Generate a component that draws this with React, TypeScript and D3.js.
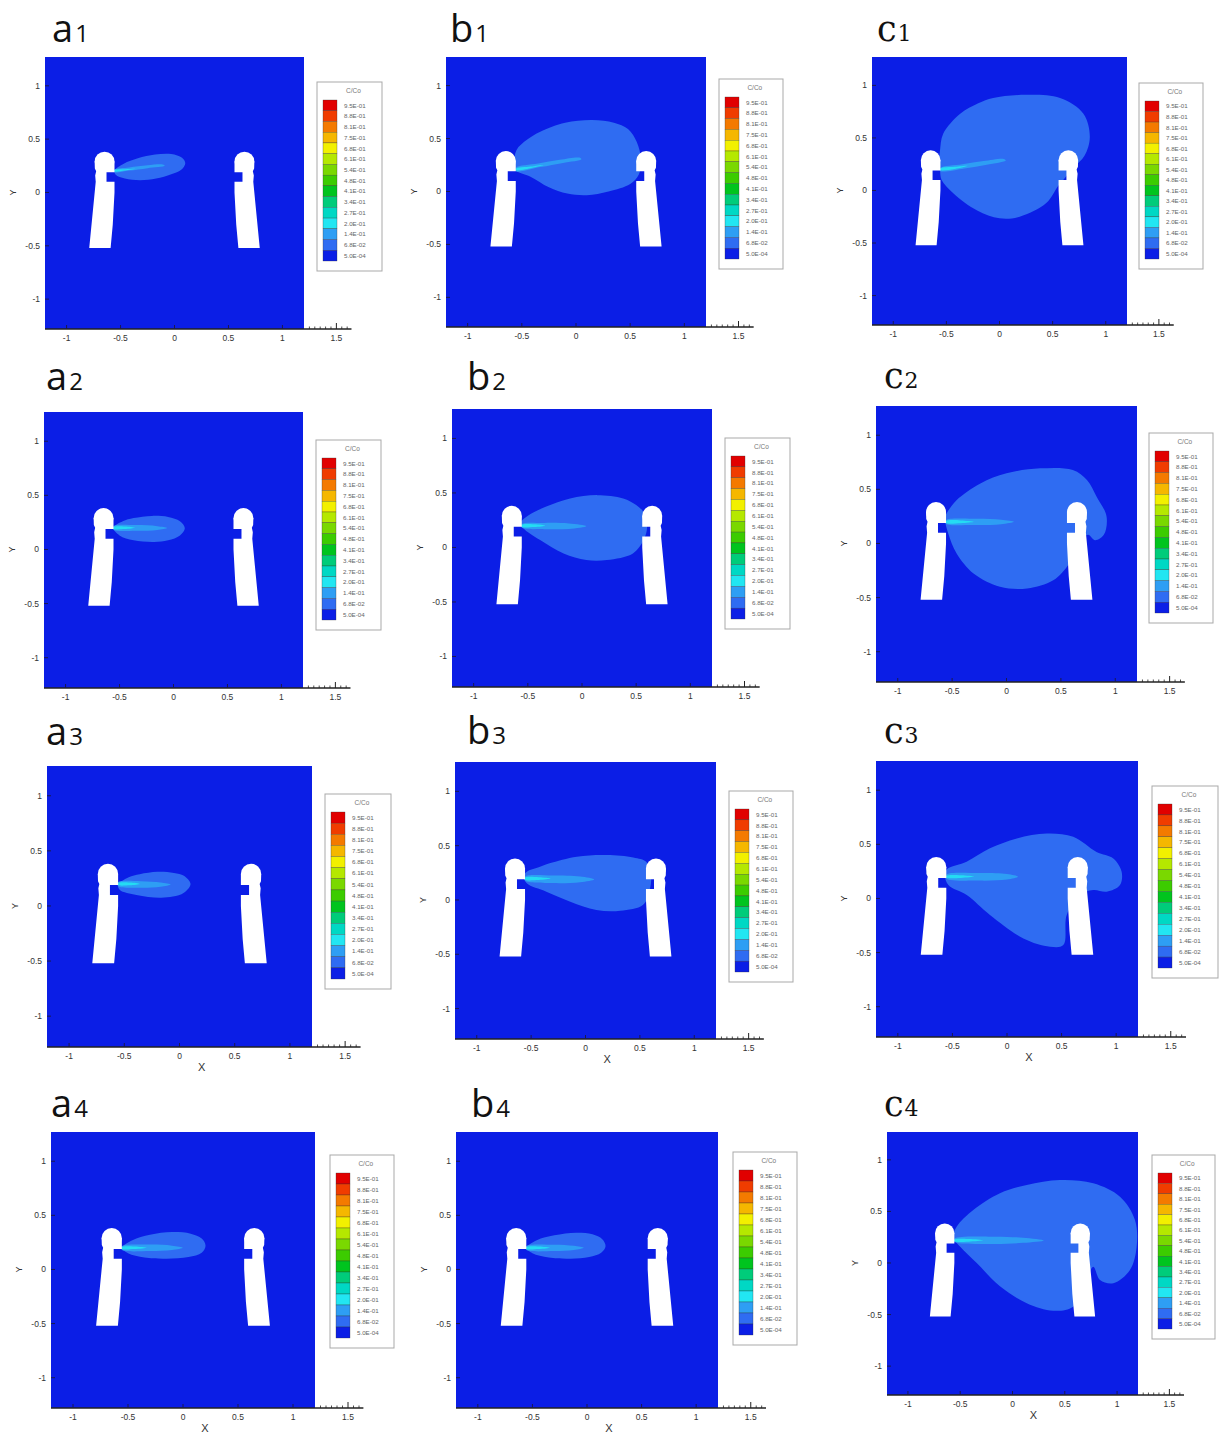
import * as d3 from "d3";

type Pt = [number, number];

// colour legend (C/Co levels, top to bottom)
const legendLabels = ["9.5E-01", "8.8E-01", "8.1E-01", "7.5E-01", "6.8E-01", "6.1E-01", "5.4E-01", "4.8E-01", "4.1E-01", "3.4E-01", "2.7E-01", "2.0E-01", "1.4E-01", "6.8E-02", "5.0E-04"];
const legendColors = ["#e10000", "#f03c00", "#f47a00", "#f5b700", "#f2f000", "#b5e800", "#7ad800", "#3ccc00", "#00c41e", "#00cc7a", "#00d8c4", "#22e6f2", "#2e9ef4", "#2f6cf2", "#0b1ee6"];

const xTicks = [-1, -0.5, 0, 0.5, 1, 1.5];
const xMinorTicks = [1.25, 1.3, 1.35, 1.4, 1.45, 1.55, 1.6];
const yTicks = [-1, -0.5, 0, 0.5, 1];

// left manikin (the right one is its mirror)
const headCenter: Pt = [-0.648, 0.29];
const headRadius = 0.092;
const bodyOutline: Pt[] = [
  [-0.74, 0.29], [-0.738, 0.225], [-0.726, 0.2], [-0.735, 0.16], [-0.73, 0.1], [-0.79, -0.52], [-0.592, -0.52],
  [-0.572, -0.3], [-0.556, 0.0], [-0.556, 0.1], [-0.63, 0.1], [-0.63, 0.19], [-0.556, 0.19], [-0.556, 0.29],
];

// plumes: outer (6.8E-02), jet (1.4E-01), core (2.0E-01)
const a1Outer: Pt[] = [[-0.556, 0.205], [-0.47, 0.27], [-0.34, 0.32], [-0.18, 0.355], [-0.03, 0.36], [0.07, 0.325], [0.1, 0.275], [0.065, 0.215], [-0.03, 0.17], [-0.17, 0.13], [-0.32, 0.115], [-0.46, 0.13], [-0.545, 0.165]];
const a1Jet: Pt[] = [[-0.556, 0.215], [-0.42, 0.235], [-0.25, 0.255], [-0.11, 0.262], [-0.09, 0.25], [-0.25, 0.228], [-0.42, 0.205], [-0.556, 0.19]];
const a1Core: Pt[] = [[-0.556, 0.21], [-0.46, 0.218], [-0.36, 0.222], [-0.46, 0.205], [-0.556, 0.196]];

const b1Outer: Pt[] = [[-0.57, 0.26], [-0.55, 0.39], [-0.45, 0.49], [-0.33, 0.565], [-0.1, 0.65], [0.15, 0.675], [0.35, 0.65], [0.48, 0.59], [0.56, 0.47], [0.6, 0.3], [0.58, 0.16], [0.5, 0.07], [0.3, 0.0], [0.1, -0.035], [-0.08, -0.02], [-0.25, 0.04], [-0.42, 0.14], [-0.56, 0.2]];
const b1Jet: Pt[] = [[-0.556, 0.225], [-0.35, 0.265], [-0.15, 0.3], [0.03, 0.32], [0.05, 0.305], [-0.12, 0.27], [-0.33, 0.23], [-0.556, 0.19]];
const b1Core: Pt[] = [[-0.556, 0.215], [-0.42, 0.235], [-0.3, 0.25], [-0.42, 0.22], [-0.556, 0.2]];

const c1Outer: Pt[] = [[-0.57, 0.25], [-0.56, 0.38], [-0.53, 0.54], [-0.37, 0.73], [-0.2, 0.83], [-0.06, 0.88], [0.25, 0.91], [0.57, 0.88], [0.79, 0.73], [0.85, 0.51], [0.8, 0.33], [0.7, 0.22], [0.6, 0.1], [0.55, 0.04], [0.44, -0.12], [0.19, -0.25], [0.0, -0.265], [-0.21, -0.19], [-0.43, -0.03], [-0.545, 0.1], [-0.56, 0.19]];
const c1Jet: Pt[] = [[-0.556, 0.215], [-0.35, 0.25], [-0.15, 0.28], [0.04, 0.3], [0.06, 0.285], [-0.12, 0.245], [-0.33, 0.21], [-0.556, 0.185]];
const c1Core: Pt[] = [[-0.556, 0.21], [-0.42, 0.225], [-0.3, 0.235], [-0.42, 0.205], [-0.556, 0.195]];

const a2Outer: Pt[] = [[-0.556, 0.2], [-0.47, 0.26], [-0.37, 0.29], [-0.2, 0.31], [-0.05, 0.3], [0.06, 0.26], [0.105, 0.195], [0.06, 0.13], [-0.05, 0.085], [-0.18, 0.07], [-0.37, 0.085], [-0.5, 0.13]];
const a2Jet: Pt[] = [[-0.556, 0.215], [-0.35, 0.225], [-0.15, 0.215], [-0.06, 0.198], [-0.15, 0.18], [-0.35, 0.172], [-0.556, 0.182]];
const a2Core: Pt[] = [[-0.556, 0.208], [-0.45, 0.212], [-0.36, 0.2], [-0.45, 0.188], [-0.556, 0.19]];

const b2Outer: Pt[] = [[-0.57, 0.22], [-0.54, 0.26], [-0.45, 0.32], [-0.33, 0.375], [-0.11, 0.45], [0.14, 0.48], [0.38, 0.45], [0.5, 0.39], [0.57, 0.32], [0.6, 0.18], [0.57, 0.07], [0.47, -0.055], [0.23, -0.115], [0.04, -0.115], [-0.17, -0.055], [-0.39, 0.07], [-0.54, 0.175]];
const b2Jet: Pt[] = [[-0.556, 0.215], [-0.35, 0.225], [-0.12, 0.22], [0.04, 0.195], [-0.12, 0.17], [-0.35, 0.168], [-0.556, 0.182]];
const b2Core: Pt[] = [[-0.556, 0.208], [-0.44, 0.212], [-0.34, 0.2], [-0.44, 0.188], [-0.556, 0.19]];

const c2Outer: Pt[] = [[-0.57, 0.24], [-0.55, 0.28], [-0.46, 0.4], [-0.24, 0.555], [0.0, 0.648], [0.31, 0.694], [0.61, 0.678], [0.74, 0.586], [0.83, 0.43], [0.92, 0.25], [0.895, 0.08], [0.815, 0.03], [0.75, 0.08], [0.68, 0.03], [0.58, -0.18], [0.43, -0.34], [0.19, -0.415], [-0.06, -0.4], [-0.3, -0.28], [-0.46, -0.09], [-0.535, 0.09], [-0.56, 0.18]];
const c2Jet: Pt[] = [[-0.556, 0.215], [-0.3, 0.228], [-0.05, 0.22], [0.07, 0.2], [-0.05, 0.178], [-0.3, 0.17], [-0.556, 0.183]];
const c2Core: Pt[] = [[-0.556, 0.208], [-0.42, 0.213], [-0.3, 0.2], [-0.42, 0.187], [-0.556, 0.19]];

const a3Outer: Pt[] = [[-0.556, 0.19], [-0.46, 0.26], [-0.36, 0.288], [-0.2, 0.31], [-0.05, 0.3], [0.04, 0.275], [0.1, 0.2], [0.04, 0.12], [-0.06, 0.085], [-0.18, 0.075], [-0.39, 0.1], [-0.54, 0.145]];
const a3Jet: Pt[] = [[-0.556, 0.215], [-0.35, 0.225], [-0.17, 0.213], [-0.08, 0.195], [-0.17, 0.175], [-0.35, 0.165], [-0.556, 0.18]];
const a3Core: Pt[] = [[-0.556, 0.208], [-0.45, 0.212], [-0.36, 0.2], [-0.45, 0.188], [-0.556, 0.19]];

const b3Outer: Pt[] = [[-0.57, 0.22], [-0.54, 0.26], [-0.43, 0.3], [-0.33, 0.337], [-0.08, 0.398], [0.195, 0.413], [0.44, 0.39], [0.56, 0.35], [0.6, 0.25], [0.595, 0.11], [0.53, -0.045], [0.32, -0.1], [0.1, -0.093], [-0.14, -0.016], [-0.36, 0.076], [-0.54, 0.153]];
const b3Jet: Pt[] = [[-0.556, 0.215], [-0.3, 0.225], [-0.05, 0.215], [0.08, 0.188], [-0.05, 0.163], [-0.3, 0.155], [-0.556, 0.178]];
const b3Core: Pt[] = [[-0.556, 0.206], [-0.43, 0.21], [-0.32, 0.197], [-0.43, 0.184], [-0.556, 0.187]];

const c3Outer: Pt[] = [[-0.57, 0.23], [-0.54, 0.278], [-0.37, 0.34], [-0.156, 0.463], [0.09, 0.555], [0.364, 0.6], [0.607, 0.57], [0.82, 0.43], [0.974, 0.37], [1.05, 0.247], [1.035, 0.124], [0.913, 0.062], [0.79, 0.078], [0.668, 0.031], [0.547, -0.153], [0.516, -0.43], [0.394, -0.446], [0.15, -0.37], [-0.156, -0.153], [-0.369, 0.031], [-0.537, 0.124]];
const c3Jet: Pt[] = [[-0.556, 0.22], [-0.25, 0.235], [0.0, 0.225], [0.1, 0.2], [0.0, 0.175], [-0.25, 0.165], [-0.556, 0.185]];
const c3Core: Pt[] = [[-0.556, 0.21], [-0.42, 0.215], [-0.3, 0.202], [-0.42, 0.19], [-0.556, 0.193]];

const a4Outer: Pt[] = [[-0.556, 0.2], [-0.46, 0.27], [-0.3, 0.32], [-0.1, 0.345], [0.07, 0.33], [0.17, 0.285], [0.205, 0.22], [0.17, 0.155], [0.05, 0.115], [-0.15, 0.1], [-0.35, 0.11], [-0.5, 0.15]];
const a4Jet: Pt[] = [[-0.556, 0.215], [-0.3, 0.23], [-0.1, 0.22], [0.0, 0.2], [-0.1, 0.18], [-0.3, 0.17], [-0.556, 0.182]];
const a4Core: Pt[] = [[-0.556, 0.208], [-0.44, 0.213], [-0.33, 0.2], [-0.44, 0.188], [-0.556, 0.19]];

const b4Outer: Pt[] = [[-0.556, 0.2], [-0.46, 0.27], [-0.3, 0.315], [-0.1, 0.34], [0.05, 0.325], [0.14, 0.28], [0.17, 0.215], [0.13, 0.155], [0.02, 0.115], [-0.15, 0.1], [-0.35, 0.11], [-0.5, 0.15]];
const b4Jet: Pt[] = [[-0.556, 0.215], [-0.3, 0.228], [-0.12, 0.218], [-0.03, 0.2], [-0.12, 0.18], [-0.3, 0.17], [-0.556, 0.182]];
const b4Core: Pt[] = [[-0.556, 0.208], [-0.44, 0.213], [-0.34, 0.2], [-0.44, 0.188], [-0.556, 0.19]];

const c4Outer: Pt[] = [[-0.57, 0.25], [-0.534, 0.352], [-0.375, 0.514], [-0.12, 0.676], [0.136, 0.757], [0.454, 0.805], [0.772, 0.773], [1.028, 0.643], [1.171, 0.417], [1.187, 0.158], [1.123, -0.068], [0.964, -0.197], [0.837, -0.165], [0.772, -0.036], [0.7, -0.2], [0.58, -0.424], [0.39, -0.463], [0.136, -0.39], [-0.12, -0.226], [-0.342, 0.0], [-0.5, 0.158]];
const c4Jet: Pt[] = [[-0.556, 0.235], [-0.2, 0.255], [0.1, 0.245], [0.3, 0.218], [0.1, 0.195], [-0.2, 0.185], [-0.556, 0.205]];
const c4Core: Pt[] = [[-0.556, 0.228], [-0.42, 0.233], [-0.28, 0.22], [-0.42, 0.207], [-0.556, 0.21]];

const X_DOMAIN = [-1.2, 1.2];
const Y_DOMAIN = [-1.28, 1.27];
const FIELD = legendColors[legendColors.length - 1];
const outerColor = legendColors[legendLabels.indexOf("6.8E-02")];
const jetColor = legendColors[legendLabels.indexOf("1.4E-01")];
const coreColor = legendColors[legendLabels.indexOf("2.0E-01")];

// layout: plot rectangle, legend box, label position
const panels = [
  { letter: "a", n: "1", L: 45, R: 304, T: 57, B: 329, lg: [317, 82, 65, 189], lab: [52, 42], outer: a1Outer, jet: a1Jet, core: a1Core, xl: false },
  { letter: "b", n: "1", L: 446, R: 706, T: 57, B: 327, lg: [719, 79, 64, 190], lab: [450, 42], outer: b1Outer, jet: b1Jet, core: b1Core, xl: false },
  { letter: "c", n: "1", L: 872, R: 1127, T: 57, B: 325, lg: [1139, 83, 64, 186], lab: [877, 41], outer: c1Outer, jet: c1Jet, core: c1Core, xl: false },
  { letter: "a", n: "2", L: 44, R: 303, T: 412, B: 688, lg: [316, 440, 65, 190], lab: [46, 390], outer: a2Outer, jet: a2Jet, core: a2Core, xl: false },
  { letter: "b", n: "2", L: 452, R: 712, T: 409, B: 687, lg: [725, 438, 65, 191], lab: [467, 390], outer: b2Outer, jet: b2Jet, core: b2Core, xl: false },
  { letter: "c", n: "2", L: 876, R: 1137, T: 406, B: 682, lg: [1149, 433, 64, 190], lab: [884, 388], outer: c2Outer, jet: c2Jet, core: c2Core, xl: false },
  { letter: "a", n: "3", L: 47, R: 312, T: 766, B: 1047, lg: [325, 794, 66, 195], lab: [46, 745], outer: a3Outer, jet: a3Jet, core: a3Core, xl: true },
  { letter: "b", n: "3", L: 455, R: 716, T: 762, B: 1039, lg: [729, 791, 64, 191], lab: [467, 744], outer: b3Outer, jet: b3Jet, core: b3Core, xl: true },
  { letter: "c", n: "3", L: 876, R: 1138, T: 761, B: 1037, lg: [1152, 786, 66, 192], lab: [884, 743], outer: c3Outer, jet: c3Jet, core: c3Core, xl: true },
  { letter: "a", n: "4", L: 51, R: 315, T: 1132, B: 1408, lg: [330, 1155, 64, 193], lab: [51, 1117], outer: a4Outer, jet: a4Jet, core: a4Core, xl: true },
  { letter: "b", n: "4", L: 456, R: 718, T: 1132, B: 1408, lg: [733, 1152, 64, 193], lab: [471, 1117], outer: b4Outer, jet: b4Jet, core: b4Core, xl: true },
  { letter: "c", n: "4", L: 887, R: 1138, T: 1132, B: 1395, lg: [1152, 1155, 63, 184], lab: [884, 1116], outer: c4Outer, jet: c4Jet, core: c4Core, xl: true },
];

const FONT = "'Liberation Sans', Arial, sans-serif";

function Legend({ box }: { box: number[] }) {
  const [lx, ly, lw, lh] = box;
  const band = d3.scaleBand<string>().domain(legendLabels).range([ly + 18, ly + lh - 10]);
  const bw = band.bandwidth();
  return (
    <g>
      <rect x={lx} y={ly} width={lw} height={lh} fill="#fff" stroke="#a9a9a9" strokeWidth={1} />
      <text x={lx + lw * 0.56} y={ly + 11} fontSize={6.5} fill="#777" textAnchor="middle" fontFamily={FONT}>C/Co</text>
      {legendLabels.map((l, i) => (
        <g key={l}>
          <rect x={lx + 6} y={band(l)} width={14} height={bw} fill={legendColors[i]} stroke="#333" strokeWidth={0.3} />
          <text x={lx + 27} y={(band(l) as number) + bw / 2 + 2.2} fontSize={6.2} fill="#666" fontFamily={FONT}>{l}</text>
        </g>
      ))}
    </g>
  );
}

function Panel({ p, idx }: { p: (typeof panels)[number]; idx: number }) {
  const x = d3.scaleLinear().domain(X_DOMAIN).range([p.L, p.R]);
  const y = d3.scaleLinear().domain(Y_DOMAIN).range([p.B, p.T]);
  const smooth = d3.line<Pt>().x(d => x(d[0])).y(d => y(d[1])).curve(d3.curveCatmullRomClosed.alpha(0.5));
  const poly = d3.line<Pt>().x(d => x(d[0])).y(d => y(d[1])).curve(d3.curveLinearClosed);
  const mirror = (pts: Pt[]): Pt[] => pts.map(([a, b]) => [-a, b] as Pt);
  const clipId = "plot-clip-" + idx;
  const rx = x(headRadius) - x(0);
  const ry = y(0) - y(headRadius);
  const serif = p.letter === "c";
  return (
    <g>
      <defs>
        <clipPath id={clipId}>
          <rect x={p.L} y={p.T} width={p.R - p.L} height={p.B - p.T} />
        </clipPath>
      </defs>
      <text x={p.lab[0]} y={p.lab[1]} fontFamily={serif ? "'DejaVu Serif', serif" : "'Open Sans', sans-serif"} fontSize={serif ? 35 : 38} fill="#111">
        {p.letter}
        <tspan fontSize={serif ? 22 : 24} dx={serif ? 1 : 2}>{p.n}</tspan>
      </text>
      <rect x={p.L} y={p.T} width={p.R - p.L} height={p.B - p.T} fill={FIELD} />
      <g clipPath={`url(#${clipId})`}>
        <path d={smooth(p.outer) as string} fill={outerColor} />
        <path d={smooth(p.jet) as string} fill={jetColor} />
        <path d={smooth(p.core) as string} fill={coreColor} opacity={0.85} />
        <path d={poly(bodyOutline) as string} fill="#fff" />
        <ellipse cx={x(headCenter[0])} cy={y(headCenter[1])} rx={rx} ry={ry} fill="#fff" />
        <path d={poly(mirror(bodyOutline)) as string} fill="#fff" />
        <ellipse cx={x(-headCenter[0])} cy={y(headCenter[1])} rx={rx} ry={ry} fill="#fff" />
      </g>
      {/* y axis */}
      {yTicks.map(t => (
        <g key={"y" + t}>
          <line x1={p.L} x2={p.L + 4} y1={y(t)} y2={y(t)} stroke="#1a1a50" strokeWidth={1} />
          <text x={p.L - 5} y={y(t) + 3} fontSize={8.5} fill="#333" textAnchor="end" fontFamily={FONT}>{t}</text>
        </g>
      ))}
      <text transform={`translate(${p.L - 29},${y(0)}) rotate(-90)`} fontSize={9} fill="#333" textAnchor="middle" fontFamily={FONT}>Y</text>
      {/* x axis */}
      <line x1={p.L} x2={x(1.64)} y1={p.B} y2={p.B} stroke="#222" strokeWidth={1.5} />
      {xTicks.map(t => (
        <g key={"x" + t}>
          <line x1={x(t)} x2={x(t)} y1={p.B} y2={p.B - (t > 1.2 ? 6 : 4)} stroke={t > 1.2 ? "#222" : "#1a1a50"} strokeWidth={1} />
          <text x={x(t)} y={p.B + 12} fontSize={8.5} fill="#333" textAnchor="middle" fontFamily={FONT}>{t}</text>
        </g>
      ))}
      {xMinorTicks.map(t => (
        <line key={"m" + t} x1={x(t)} x2={x(t)} y1={p.B} y2={p.B - 2.5} stroke="#222" strokeWidth={0.8} />
      ))}
      {p.xl && (
        <text x={x(0.2)} y={p.B + 24} fontSize={11} fill="#333" textAnchor="middle" fontFamily={FONT}>X</text>
      )}
      <Legend box={p.lg} />
    </g>
  );
}

export default function App() {
  return (
    <svg width={1222} height={1433} style={{ position: "absolute", left: 0, top: 0, background: "#fff" }}>
      <rect width={1222} height={1433} fill="#fff" />
      {panels.map((p, i) => (
        <Panel key={p.letter + p.n} p={p} idx={i} />
      ))}
    </svg>
  );
}
